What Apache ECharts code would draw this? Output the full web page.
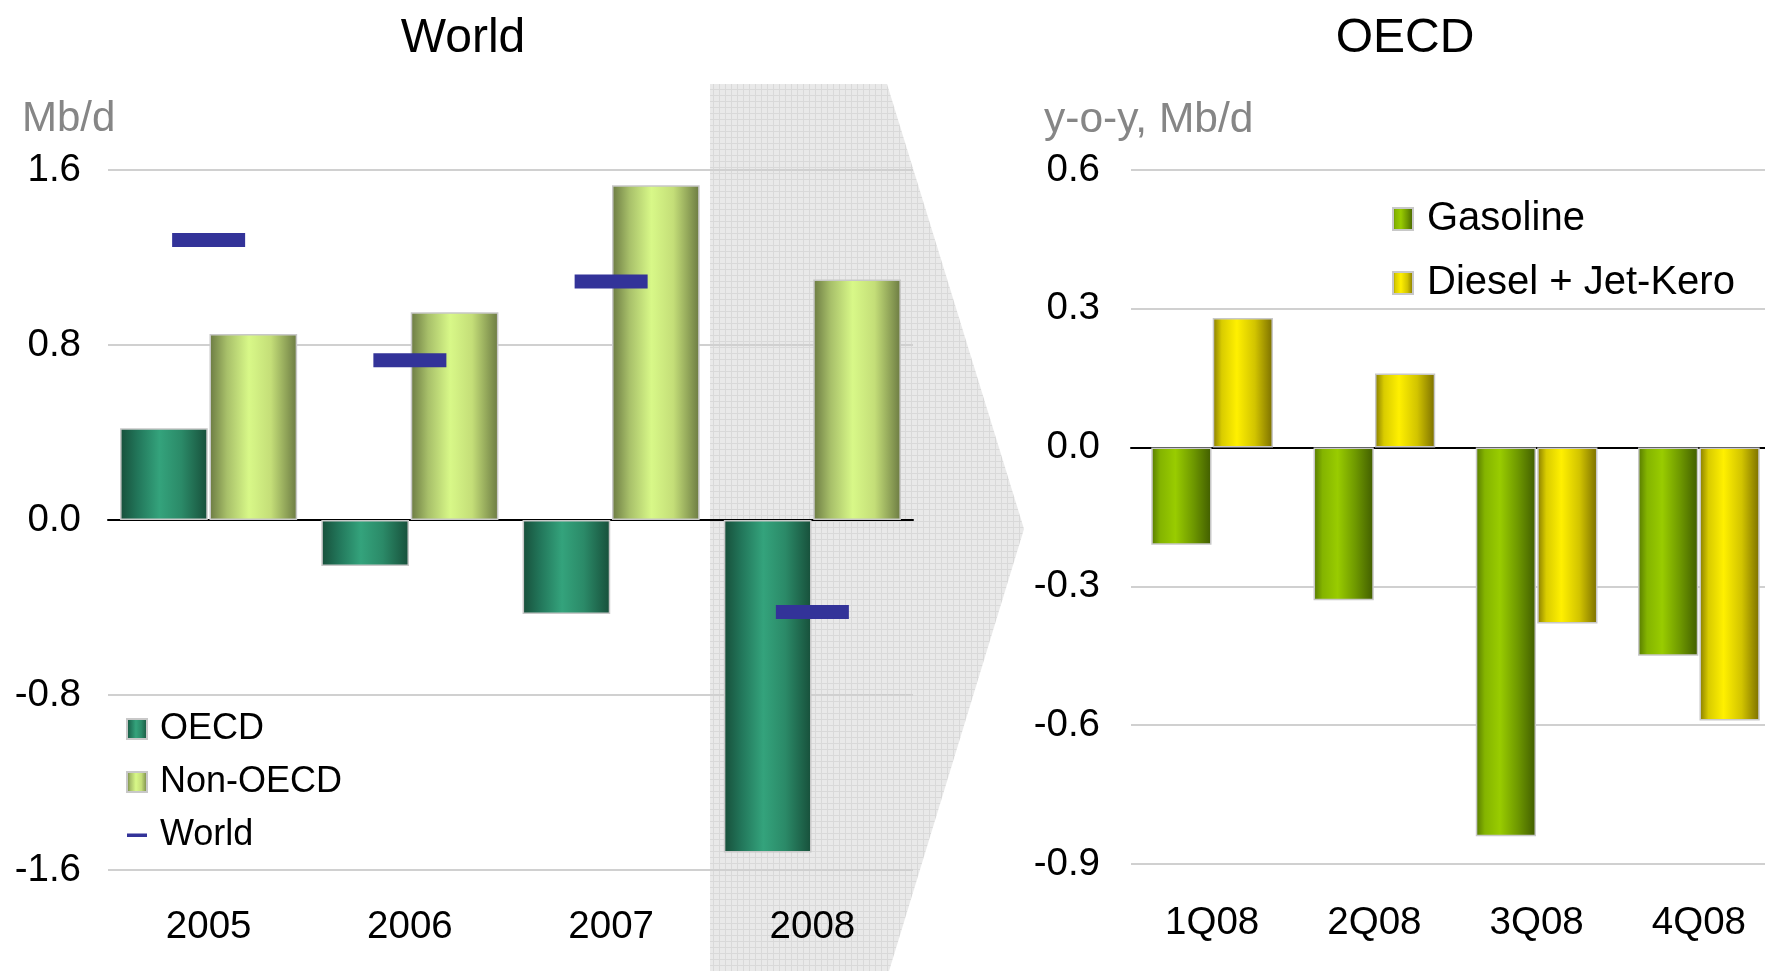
<!DOCTYPE html>
<html>
<head>
<meta charset="utf-8">
<script src="https://cdn.jsdelivr.net/npm/echarts@6/dist/echarts.min.js"></script>
<style>
html,body{margin:0;padding:0;background:#fff;}
#chart{width:1765px;height:971px;}
</style>
</head>
<body>
<div id="chart"></div>
<script>
// ---- data ----
const years = ['2005', '2006', '2007', '2008'];
const oecdDemand = [0.42, -0.21, -0.43, -1.52];
const nonOecdDemand = [0.85, 0.95, 1.53, 1.10];
const worldDemand = [1.28, 0.73, 1.09, -0.42];

const quarters = ['1Q08', '2Q08', '3Q08', '4Q08'];
const gasoline = [-0.21, -0.33, -0.84, -0.45];
const dieselJetKero = [0.28, 0.16, -0.38, -0.59];

const leftAxis = { min: -1.6, max: 1.6, interval: 0.8 };
const rightAxis = { min: -0.9, max: 0.6, interval: 0.3 };

// ---- styles ----
const FONT = '"Liberation Sans", Arial, sans-serif';
function hGrad(stops) {
  return new echarts.graphic.LinearGradient(0, 0, 1, 0,
    stops.map(s => ({ offset: s[0], color: s[1] })));
}
const oecdColor = hGrad([[0, '#174f3a'], [0.2, '#22765a'], [0.45, '#34a37c'], [0.7, '#2b8a68'], [1, '#174f3a']]);
const nonOecdColor = hGrad([[0, '#6b7a42'], [0.2, '#a8c06a'], [0.45, '#d8f888'], [0.7, '#c4de78'], [1, '#6b7a42']]);
const gasColor = hGrad([[0, '#557800'], [0.15, '#84b400'], [0.4, '#99cc00'], [0.7, '#6e9800'], [1, '#405c00']]);
const dieselColor = hGrad([[0, '#857a00'], [0.15, '#d9cc00'], [0.4, '#fff000'], [0.7, '#d2c400'], [1, '#7a6e00']]);

const pc = document.createElement('canvas');
pc.width = 6; pc.height = 6;
const pctx = pc.getContext('2d');
pctx.fillStyle = '#e9e9e9'; pctx.fillRect(0, 0, 6, 6);
pctx.fillStyle = '#d9d9d9'; pctx.fillRect(0, 5, 6, 1); pctx.fillRect(5, 0, 1, 6);

const axisLabelStyle = { color: '#000', fontSize: 38.5, fontFamily: FONT };

const chart = echarts.init(document.getElementById('chart'), null, { renderer: 'canvas' });
chart.setOption({
  animation: false,
  backgroundColor: '#fff',
  textStyle: { fontFamily: FONT },
  title: [
    { text: 'World', left: 458, top: 10, textAlign: 'center',
      textStyle: { fontSize: 48, fontWeight: 'normal', color: '#000', fontFamily: FONT } },
    { text: 'OECD', left: 1400, top: 10, textAlign: 'center',
      textStyle: { fontSize: 48, fontWeight: 'normal', color: '#000', fontFamily: FONT } },
    { text: 'Mb/d', left: 17, top: 93,
      textStyle: { fontSize: 42, fontWeight: 'normal', color: '#868686', fontFamily: FONT } },
    { text: 'y-o-y, Mb/d', left: 1039, top: 94,
      textStyle: { fontSize: 42.5, fontWeight: 'normal', color: '#868686', fontFamily: FONT } }
  ],
  graphic: [
    { type: 'polygon', z: -1,
      shape: { points: [[710, 84], [887, 84], [1024, 529], [889, 971], [710, 971]] },
      style: { fill: { image: pc, repeat: 'repeat' } } }
  ],
  legend: [
    { orient: 'vertical', left: 121, top: 706, itemWidth: 20, itemHeight: 20, itemGap: 17,
      textStyle: { fontSize: 36, lineHeight: 36, color: '#000', fontFamily: FONT, padding: [0, 0, 0, 8] },
      data: [
        { name: 'OECD', icon: 'rect' },
        { name: 'Non-OECD', icon: 'rect' },
        { name: 'World', icon: 'path://M0,0h0.01v0.01h-0.01z M0,8.5h20v3.5h-20z M19.99,19.99h0.01v0.01h-0.01z' }
      ] },
    { orient: 'vertical', left: 1387, top: 194, itemWidth: 20, itemHeight: 22, itemGap: 24,
      textStyle: { fontSize: 40, lineHeight: 40, color: '#000', fontFamily: FONT, padding: [0, 0, 0, 9] },
      data: [
        { name: 'Gasoline', icon: 'rect' },
        { name: 'Diesel + Jet-Kero', icon: 'rect' }
      ] }
  ],
  grid: [
    { left: 108, width: 805, top: 170, bottom: 101, outerBoundsMode: 'none' },
    { left: 1131, width: 649, top: 170, bottom: 107, outerBoundsMode: 'none' }
  ],
  xAxis: [
    { type: 'category', gridIndex: 0, data: years,
      axisLine: { onZero: true, lineStyle: { color: '#000', width: 2 } },
      axisTick: { show: false },
      axisLabel: Object.assign({ margin: 38 }, axisLabelStyle) },
    { type: 'category', gridIndex: 1, data: quarters,
      axisLine: { onZero: true, lineStyle: { color: '#000', width: 2 } },
      axisTick: { show: false },
      axisLabel: Object.assign({ margin: 40 }, axisLabelStyle) }
  ],
  yAxis: [
    { type: 'value', gridIndex: 0, min: leftAxis.min, max: leftAxis.max, interval: leftAxis.interval,
      axisLine: { show: false }, axisTick: { show: false },
      splitLine: { lineStyle: { color: '#d0d0d0', width: 2 } },
      axisLabel: Object.assign({ margin: 27, formatter: v => v.toFixed(1) }, axisLabelStyle) },
    { type: 'value', gridIndex: 1, min: rightAxis.min, max: rightAxis.max, interval: rightAxis.interval,
      axisLine: { show: false }, axisTick: { show: false },
      splitLine: { lineStyle: { color: '#d0d0d0', width: 2 } },
      axisLabel: Object.assign({ margin: 31, formatter: v => v.toFixed(1) }, axisLabelStyle) }
  ],
  series: [
    { name: 'OECD', type: 'bar', xAxisIndex: 0, yAxisIndex: 0, data: oecdDemand,
      barGap: '2%', barCategoryGap: '12%',
      itemStyle: { color: oecdColor, borderColor: '#c8c8c8', borderWidth: 1.5 } },
    { name: 'Non-OECD', type: 'bar', xAxisIndex: 0, yAxisIndex: 0, data: nonOecdDemand,
      barGap: '2%', barCategoryGap: '12%',
      itemStyle: { color: nonOecdColor, borderColor: '#c8c8c8', borderWidth: 1.5 } },
    { name: 'World', type: 'scatter', xAxisIndex: 0, yAxisIndex: 0, data: worldDemand,
      symbol: 'rect', symbolSize: [73, 14], z: 5,
      itemStyle: { color: '#333399', opacity: 1 } },
    { name: 'Gasoline', type: 'bar', xAxisIndex: 1, yAxisIndex: 1, data: gasoline,
      barGap: '2%', barCategoryGap: '25%',
      itemStyle: { color: gasColor, borderColor: '#c8c8c8', borderWidth: 1.5 } },
    { name: 'Diesel + Jet-Kero', type: 'bar', xAxisIndex: 1, yAxisIndex: 1, data: dieselJetKero,
      barGap: '2%', barCategoryGap: '25%',
      itemStyle: { color: dieselColor, borderColor: '#c8c8c8', borderWidth: 1.5 } }
  ]
});
</script>
</body>
</html>
